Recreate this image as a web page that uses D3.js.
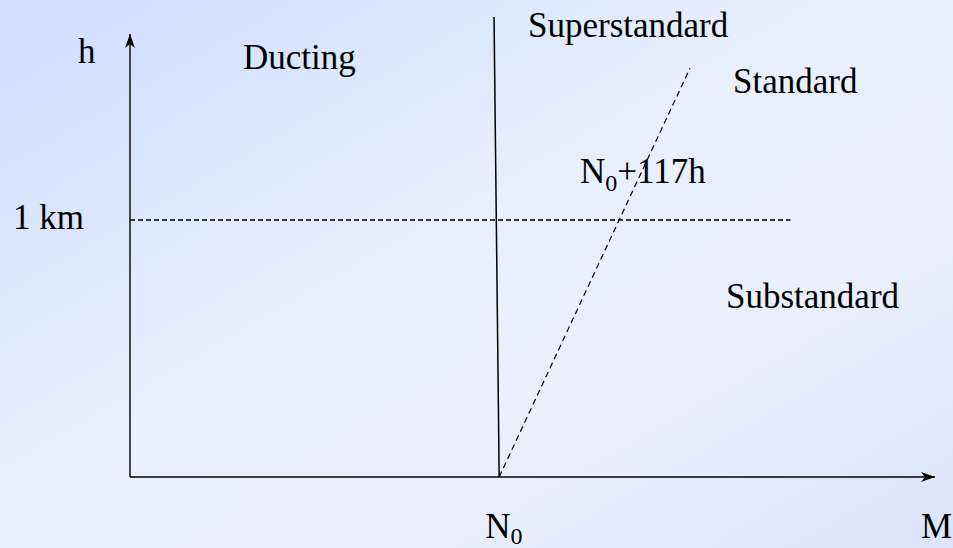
<!DOCTYPE html>
<html>
<head>
<meta charset="utf-8">
<script src="https://cdn.jsdelivr.net/npm/d3@7"></script>
<style>
  html, body { margin: 0; padding: 0; }
  svg { display: block; }
</style>
</head>
<body>
<div id="vis"></div>
<script>

// refractivity regimes (M = modified refractivity, h = height in km)
// M is measured relative to N0
var regionNames = ["Ducting", "Superstandard", "Standard", "Substandard"];
var hTicks = [1];
var hTickLabels = ["1 km"];
var mTicks = [0];
var standardSlope = 117; // M units per km

// boundary M = N0 (drawn a touch off vertical, as in the picture)
var boundaryM = [0, -5];
var boundaryH = [0, 1.79];

// standard atmosphere N0 + 117h
var standardM = [0, 186];
var standardH = [0, 1.59];

// the 1 km reference level
var refM = [-360, 284];
var refH = [1, 1];

// axis extents
var mExtent = [-360, 425];
var hExtent = [0, 1.724];

var width = 953;
var height = 548;
var serif = "'Liberation Serif', 'Times New Roman', Times, 'DejaVu Serif', serif";

var svg = d3.select('#vis').append('svg')
  .attr('width', width)
  .attr('height', height);

// background gradient
var defs = svg.append('defs');
var grad = defs.append('linearGradient')
  .attr('id', 'bg')
  .attr('x1', '0%').attr('y1', '0%')
  .attr('x2', '100%').attr('y2', '100%');
grad.append('stop').attr('offset', '0%').attr('stop-color', '#cddcff');
grad.append('stop').attr('offset', '45%').attr('stop-color', '#e8effe');
grad.append('stop').attr('offset', '70%').attr('stop-color', '#e9effd');
grad.append('stop').attr('offset', '100%').attr('stop-color', '#dbe4fc');

svg.append('rect')
  .attr('width', width)
  .attr('height', height)
  .attr('fill', 'url(#bg)');

// arrow head for the axes
defs.append('marker')
  .attr('id', 'arrow')
  .attr('markerUnits', 'userSpaceOnUse')
  .attr('viewBox', '-15 -6 16 12')
  .attr('refX', 0)
  .attr('refY', 0)
  .attr('markerWidth', 16)
  .attr('markerHeight', 12)
  .attr('orient', 'auto')
  .append('path')
  .attr('d', 'M0,0 L-14,-5 L-10,0 L-14,5 Z')
  .attr('fill', '#000');

var x = d3.scaleLinear().domain(mExtent).range([130, 935]);
var y = d3.scaleLinear().domain([0, 1]).range([477, 220]);

var g = svg.append('g')
  .attr('font-family', serif)
  .attr('font-size', 35)
  .attr('fill', '#000');

var line = d3.line()
  .x(function (d) { return x(d[0]); })
  .y(function (d) { return y(d[1]); });

// axes
g.append('path')
  .attr('d', line([[mExtent[0], 0], [mExtent[1], 0]]))
  .attr('stroke', '#000')
  .attr('stroke-width', 1.4)
  .attr('fill', 'none')
  .attr('marker-end', 'url(#arrow)');

g.append('path')
  .attr('d', line([[mExtent[0], 0], [mExtent[0], hExtent[1]]]))
  .attr('stroke', '#000')
  .attr('stroke-width', 1.4)
  .attr('fill', 'none')
  .attr('marker-end', 'url(#arrow)');

// 1 km level
g.append('path')
  .attr('d', line(d3.zip(refM, refH)))
  .attr('stroke', '#000')
  .attr('stroke-width', 1.3)
  .attr('stroke-dasharray', '5,3')
  .attr('fill', 'none');

// M = N0 boundary
g.append('path')
  .attr('d', line(d3.zip(boundaryM, boundaryH)))
  .attr('stroke', '#000')
  .attr('stroke-width', 1.5)
  .attr('fill', 'none');

// N0 + 117h
g.append('path')
  .attr('d', line(d3.zip(standardM, standardH)))
  .attr('stroke', '#000')
  .attr('stroke-width', 1.2)
  .attr('stroke-dasharray', '6,4')
  .attr('fill', 'none');

// tick labels
g.selectAll('.htick')
  .data(hTicks)
  .enter().append('text')
  .attr('class', 'htick')
  .attr('x', 13)
  .attr('y', function (d) { return y(d) + 9; })
  .text(function (d, i) { return hTickLabels[i]; });

var mt = g.selectAll('.mtick')
  .data(mTicks)
  .enter().append('text')
  .attr('class', 'mtick')
  .attr('x', function (d) { return x(d) - 14; })
  .attr('y', 538);
mt.append('tspan').text('N');
mt.append('tspan').attr('font-size', 24).attr('dy', 6).text('0');

// axis titles
g.append('text').attr('x', 78).attr('y', 63).text('h');
g.append('text').attr('x', 921).attr('y', 538).text('M');

// region names
var regionPos = [[243, 69], [528, 37], [733, 93], [726, 308]];
g.selectAll('.region')
  .data(regionNames)
  .enter().append('text')
  .attr('class', 'region')
  .attr('x', function (d, i) { return regionPos[i][0]; })
  .attr('y', function (d, i) { return regionPos[i][1]; })
  .text(function (d) { return d; });

// N0 + 117h label
var eq = g.append('text')
  .attr('x', 580)
  .attr('y', 183);
eq.append('tspan').text('N');
eq.append('tspan').attr('font-size', 24).attr('dy', 8).text('0');
eq.append('tspan').attr('dy', -8).text('+' + standardSlope + 'h');

</script>
</body>
</html>
